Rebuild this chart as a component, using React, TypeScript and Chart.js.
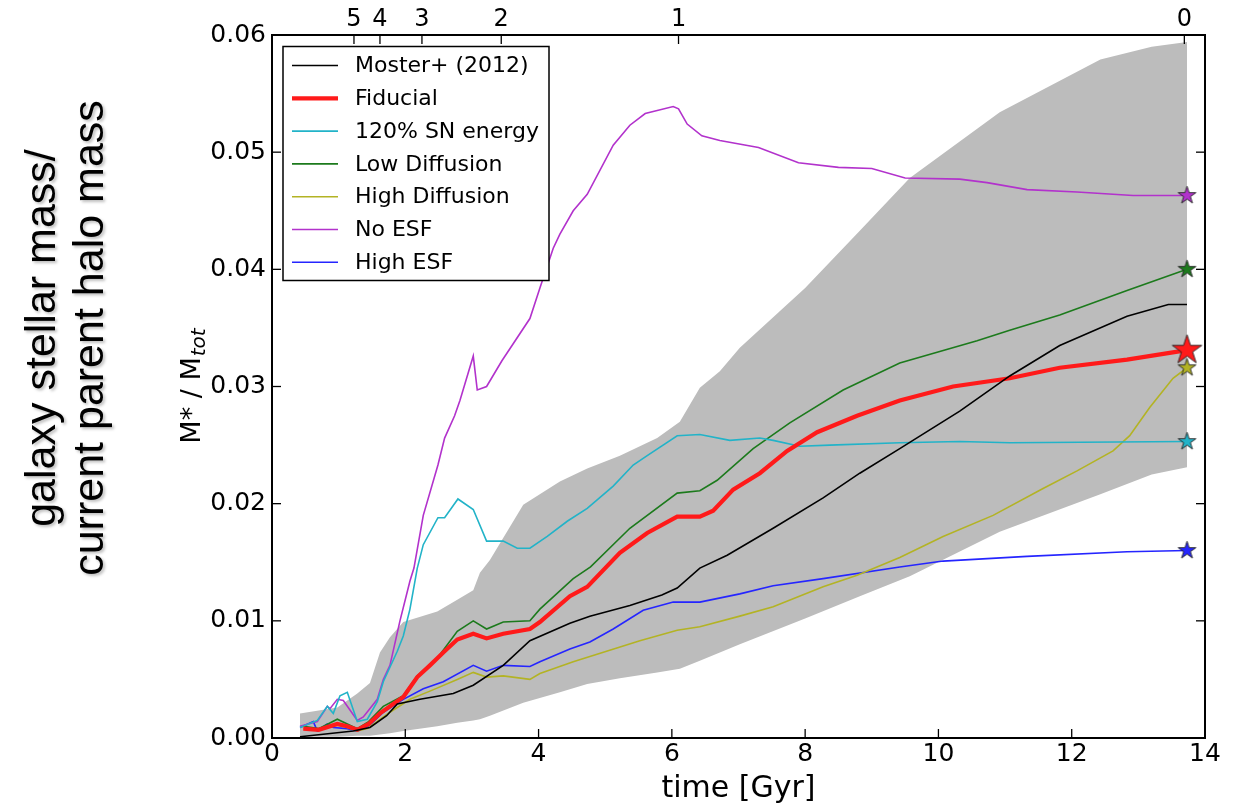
import React, { useEffect, useRef } from 'react';
import { Chart, registerables } from 'chart.js';

Chart.register(...registerables);

// ---------- data ----------
const seriesNames = ['Moster+ (2012)', 'Fiducial', '120% SN energy', 'Low Diffusion', 'High Diffusion', 'No ESF', 'High ESF'];

const redshiftLabels = ['5', '4', '3', '2', '1', '0'];
const redshiftTimes = [1.23, 1.62, 2.25, 3.44, 6.1, 13.69];

const bandT = [0.42, 0.98, 1.28, 1.47, 1.62, 1.77, 1.97, 2.48, 2.78, 3.02, 3.12, 3.27, 3.77, 4.32, 4.73, 5.22, 5.78, 6.12, 6.42, 6.72, 7.02, 8.0, 8.82, 9.57, 10.92, 12.43, 13.2, 13.73];
const bandHi = [0.0021, 0.0026, 0.0038, 0.0047, 0.0073, 0.0086, 0.0099, 0.0108, 0.0118, 0.0126, 0.0141, 0.0152, 0.0199, 0.0219, 0.0230, 0.0241, 0.0256, 0.0270, 0.0299, 0.0313, 0.0333, 0.0384, 0.0433, 0.0478, 0.0534, 0.0579, 0.0590, 0.0594];
const bandLo = [0.0001, 0.0001, 0.0002, 0.0002, 0.0003, 0.0004, 0.0006, 0.0010, 0.0013, 0.0015, 0.0016, 0.0019, 0.0030, 0.0039, 0.0046, 0.0051, 0.0056, 0.0059, 0.0066, 0.0073, 0.0080, 0.0102, 0.0121, 0.0138, 0.0176, 0.0208, 0.0225, 0.0231];

const mosterT = [0.42, 1.22, 1.47, 1.72, 1.88, 2.22, 2.72, 3.02, 3.47, 3.87, 4.47, 4.77, 5.37, 5.85, 6.08, 6.42, 6.83, 7.52, 8.27, 8.82, 9.42, 10.32, 11.07, 11.82, 12.83, 13.45, 13.73];
const mosterV = [0.0001, 0.0006, 0.0009, 0.0019, 0.0029, 0.0033, 0.0038, 0.0045, 0.0062, 0.0083, 0.0098, 0.0104, 0.0113, 0.0122, 0.0128, 0.0145, 0.0156, 0.0179, 0.0205, 0.0226, 0.0247, 0.0279, 0.0309, 0.0335, 0.0360, 0.0370, 0.0370];

const fiducialT = [0.47, 0.7, 0.98, 1.13, 1.28, 1.45, 1.62, 1.97, 2.18, 2.37, 2.57, 2.78, 3.02, 3.22, 3.47, 3.87, 4.02, 4.47, 4.73, 5.22, 5.63, 6.08, 6.42, 6.62, 6.92, 7.32, 7.73, 8.18, 8.78, 9.42, 10.22, 11.07, 11.82, 12.83, 13.73];
const fiducialV = [0.0008, 0.0007, 0.0012, 0.0010, 0.0007, 0.0012, 0.0021, 0.0035, 0.0052, 0.0062, 0.0073, 0.0084, 0.0089, 0.0085, 0.0089, 0.0093, 0.0099, 0.0121, 0.0129, 0.0158, 0.0175, 0.0189, 0.0189, 0.0194, 0.0212, 0.0226, 0.0245, 0.0261, 0.0275, 0.0288, 0.0300, 0.0307, 0.0316, 0.0323, 0.0331];

const sn120T = [0.42, 0.68, 0.83, 0.92, 1.02, 1.13, 1.28, 1.43, 1.58, 1.67, 1.88, 1.97, 2.07, 2.18, 2.27, 2.49, 2.59, 2.79, 3.02, 3.22, 3.47, 3.68, 3.87, 4.13, 4.43, 4.73, 5.12, 5.42, 5.63, 6.08, 6.42, 6.87, 7.32, 7.52, 7.92, 8.37, 9.42, 10.32, 11.07, 13.73];
const sn120V = [0.0009, 0.0015, 0.0027, 0.0021, 0.0036, 0.0039, 0.0014, 0.0016, 0.0031, 0.0048, 0.0074, 0.0087, 0.0110, 0.0145, 0.0165, 0.0188, 0.0188, 0.0204, 0.0195, 0.0168, 0.0168, 0.0162, 0.0162, 0.0172, 0.0185, 0.0196, 0.0215, 0.0233, 0.0241, 0.0258, 0.0259, 0.0254, 0.0256, 0.0254, 0.0249, 0.0250, 0.0252, 0.0253, 0.0252, 0.0253];

const lowDiffT = [0.47, 0.7, 0.98, 1.13, 1.28, 1.45, 1.67, 1.97, 2.18, 2.48, 2.78, 3.02, 3.22, 3.47, 3.87, 4.02, 4.52, 4.78, 5.37, 6.08, 6.42, 6.68, 7.22, 7.77, 8.57, 9.42, 10.58, 11.07, 11.82, 12.83, 13.73];
const lowDiffV = [0.0010, 0.0008, 0.0016, 0.0012, 0.0008, 0.0014, 0.0027, 0.0036, 0.0053, 0.0068, 0.0091, 0.0100, 0.0093, 0.0099, 0.0100, 0.0110, 0.0136, 0.0146, 0.0179, 0.0209, 0.0211, 0.0220, 0.0247, 0.0269, 0.0297, 0.0320, 0.0339, 0.0348, 0.0361, 0.0382, 0.0400];

const highDiffT = [0.47, 0.7, 0.98, 1.13, 1.28, 1.43, 1.77, 2.07, 2.37, 2.78, 3.02, 3.22, 3.47, 3.87, 4.02, 4.52, 5.02, 5.52, 6.08, 6.42, 7.02, 7.52, 8.27, 8.78, 9.42, 10.07, 10.82, 11.57, 12.08, 12.62, 12.87, 13.17, 13.52, 13.73];
const highDiffV = [0.0008, 0.0007, 0.0011, 0.0009, 0.0006, 0.0008, 0.0022, 0.0033, 0.0040, 0.0050, 0.0056, 0.0052, 0.0053, 0.0050, 0.0055, 0.0065, 0.0074, 0.0083, 0.0092, 0.0095, 0.0104, 0.0112, 0.0129, 0.0139, 0.0154, 0.0172, 0.0190, 0.0213, 0.0228, 0.0245, 0.0258, 0.0282, 0.0307, 0.0316];

const noEsfT = [0.42, 0.68, 0.83, 0.87, 0.98, 1.07, 1.28, 1.37, 1.58, 1.67, 1.77, 1.92, 2.07, 2.13, 2.27, 2.49, 2.59, 2.74, 2.82, 3.02, 3.08, 3.22, 3.45, 3.87, 4.02, 4.22, 4.32, 4.52, 4.73, 5.12, 5.37, 5.60, 6.02, 6.10, 6.23, 6.45, 6.72, 7.30, 7.90, 8.50, 9.00, 9.50, 10.32, 10.73, 11.33, 12.08, 12.92, 13.73];
const noEsfV = [0.0010, 0.0014, 0.0027, 0.0025, 0.0033, 0.0032, 0.0015, 0.0018, 0.0033, 0.0050, 0.0062, 0.0100, 0.0134, 0.0145, 0.0190, 0.0233, 0.0256, 0.0275, 0.0288, 0.0326, 0.0297, 0.0300, 0.0322, 0.0358, 0.0384, 0.0418, 0.0430, 0.0450, 0.0464, 0.0506, 0.0523, 0.0533, 0.0539, 0.0537, 0.0524, 0.0514, 0.0510, 0.0504, 0.0491, 0.0487, 0.0486, 0.0478, 0.0477, 0.0474, 0.0468, 0.0466, 0.0463, 0.0463];

const highEsfT = [0.42, 0.62, 0.68, 0.83, 0.92, 1.13, 1.28, 1.43, 1.67, 1.97, 2.27, 2.57, 3.02, 3.22, 3.47, 3.87, 4.02, 4.47, 4.77, 5.12, 5.57, 6.02, 6.42, 7.02, 7.52, 8.27, 9.42, 10.07, 11.33, 12.83, 13.73];
const highEsfV = [0.0009, 0.0014, 0.0006, 0.0012, 0.0009, 0.0008, 0.0006, 0.0009, 0.0022, 0.0033, 0.0042, 0.0048, 0.0062, 0.0057, 0.0062, 0.0061, 0.0065, 0.0076, 0.0082, 0.0093, 0.0109, 0.0116, 0.0116, 0.0123, 0.0130, 0.0136, 0.0146, 0.0151, 0.0155, 0.0159, 0.0160];

// ---------- styles ----------
const seriesColors = ['#000000', '#ff1a1a', '#22b3c8', '#1c7a1c', '#b3b324', '#b232cc', '#2525ff'];
const seriesWidths = [1.6, 4.2, 1.6, 1.6, 1.6, 1.6, 1.6];
const bandColor = '#bcbcbc';
const FONT = '"DejaVu Sans", sans-serif';

function toPts(t: number[], v: number[]) {
  return t.map((x, i) => ({ x, y: v[i] }));
}

function makeStar(fill: string, R: number): HTMLCanvasElement {
  const pad = 2;
  const size = Math.ceil(2 * R + 2 * pad);
  const c = document.createElement('canvas');
  c.width = size;
  c.height = size;
  const g = c.getContext('2d')!;
  const cx = size / 2;
  const cy = size / 2;
  const r = R * 0.382;
  g.beginPath();
  for (let i = 0; i < 10; i++) {
    const ang = -Math.PI / 2 + (i * Math.PI) / 5;
    const rad = i % 2 === 0 ? R : r;
    const px = cx + rad * Math.cos(ang);
    const py = cy + rad * Math.sin(ang);
    if (i === 0) g.moveTo(px, py);
    else g.lineTo(px, py);
  }
  g.closePath();
  g.fillStyle = fill;
  g.fill();
  g.lineWidth = 0.9;
  g.strokeStyle = '#222';
  g.stroke();
  return c;
}

const decorPlugin = {
  id: 'decor',
  afterDraw(chart: any) {
    const { ctx, chartArea: a, scales } = chart;
    ctx.save();
    const seg = (x1: number, y1: number, x2: number, y2: number) => {
      ctx.beginPath();
      ctx.moveTo(x1, y1);
      ctx.lineTo(x2, y2);
      ctx.stroke();
    };
    // legend
    const lx = a.left + 11;
    const ly = a.top + 11.5;
    ctx.fillStyle = '#fff';
    ctx.fillRect(lx, ly, 266, 234);
    ctx.strokeStyle = '#000';
    ctx.lineWidth = 1.5;
    ctx.strokeRect(lx, ly, 266, 234);
    ctx.font = `22px ${FONT}`;
    ctx.textBaseline = 'middle';
    ctx.textAlign = 'left';
    seriesNames.forEach((name, i) => {
      const ry = a.top + 30.5 + i * 32.8;
      ctx.strokeStyle = seriesColors[i];
      ctx.lineWidth = seriesWidths[i];
      seg(a.left + 20, ry, a.left + 66, ry);
      ctx.fillStyle = '#000';
      ctx.fillText(name, a.left + 83, ry + 1);
    });
    // inner ticks
    ctx.strokeStyle = '#000';
    ctx.lineWidth = 1.3;
    const tl = 9;
    scales.x.ticks.forEach((t: any) => {
      const px = scales.x.getPixelForValue(t.value);
      seg(px, a.bottom, px, a.bottom - tl);
    });
    scales.x2.ticks.forEach((t: any) => {
      const px = scales.x2.getPixelForValue(t.value);
      seg(px, a.top, px, a.top + tl);
    });
    scales.y.ticks.forEach((t: any) => {
      const py = scales.y.getPixelForValue(t.value);
      seg(a.left, py, a.left + tl, py);
      seg(a.right, py, a.right - tl, py);
    });
    // frame
    ctx.lineWidth = 2;
    ctx.strokeRect(a.left, a.top, a.right - a.left, a.bottom - a.top);
    // x title
    ctx.fillStyle = '#000';
    ctx.font = `30px ${FONT}`;
    ctx.textAlign = 'center';
    ctx.textBaseline = 'alphabetic';
    ctx.fillText('time [Gyr]', (a.left + a.right) / 2, 797);
    // y title
    ctx.translate(200, (a.top + a.bottom) / 2);
    ctx.rotate(-Math.PI / 2);
    const mainFont = `27px ${FONT}`;
    const subFont = `italic 20px ${FONT}`;
    ctx.font = mainFont;
    const w1 = ctx.measureText('M* / M').width;
    ctx.font = subFont;
    const w2 = ctx.measureText('tot').width;
    const start = -(w1 + w2) / 2;
    ctx.textAlign = 'left';
    ctx.font = mainFont;
    ctx.fillText('M* / M', start, 0);
    ctx.font = subFont;
    ctx.fillText('tot', start + w1 + 1, 5);
    ctx.restore();
  },
};

export default function App() {
  const ref = useRef<HTMLCanvasElement | null>(null);

  useEffect(() => {
    if (!ref.current) return;
    const lineSeries = [
      [mosterT, mosterV],
      [fiducialT, fiducialV],
      [sn120T, sn120V],
      [lowDiffT, lowDiffV],
      [highDiffT, highDiffV],
      [noEsfT, noEsfV],
      [highEsfT, highEsfV],
    ];
    const datasets: any[] = [
      {
        label: 'band upper',
        data: toPts(bandT, bandHi),
        borderWidth: 0,
        borderColor: bandColor,
        backgroundColor: bandColor,
        fill: '+1',
        pointRadius: 0,
        order: 100,
      },
      {
        label: 'band lower',
        data: toPts(bandT, bandLo),
        borderWidth: 0,
        borderColor: bandColor,
        fill: false,
        pointRadius: 0,
        order: 100,
      },
    ];
    lineSeries.forEach(([t, v], i) => {
      datasets.push({
        label: seriesNames[i],
        data: toPts(t, v),
        borderColor: seriesColors[i],
        borderWidth: seriesWidths[i],
        fill: false,
        pointRadius: 0,
        tension: 0,
        order: 10,
      });
    });
    // end-point stars for the simulations (all but Moster)
    lineSeries.forEach(([t, v], i) => {
      if (i === 0) return;
      const R = i === 1 ? 15.5 : 9.3;
      datasets.push({
        label: seriesNames[i] + ' z=0',
        data: [{ x: t[t.length - 1], y: v[v.length - 1] }],
        showLine: false,
        pointStyle: makeStar(seriesColors[i], R),
        pointRadius: R,
        order: i === 1 ? 0 : 1,
      });
    });

    const chart = new Chart(ref.current, {
      type: 'line',
      data: { datasets },
      options: {
        animation: false,
        responsive: false,
        devicePixelRatio: 1,
        layout: { padding: { left: 180, right: 31, top: 0, bottom: 0 } },
        font: { family: FONT },
        plugins: {
          legend: { display: false },
          tooltip: { enabled: false },
          filler: { drawTime: 'beforeDatasetsDraw' },
        } as any,
        scales: {
          x: {
            type: 'linear',
            position: 'bottom',
            min: 0,
            max: 14,
            grid: { display: false },
            border: { display: false },
            ticks: {
              stepSize: 2,
              autoSkip: false,
              maxRotation: 0,
              padding: -7,
              color: '#000',
              font: { family: FONT, size: 25 },
            },
            afterFit(s: any) {
              s.height = 66;
            },
          },
          x2: {
            type: 'linear',
            position: 'top',
            min: 0,
            max: 14,
            grid: { display: false },
            border: { display: false },
            afterBuildTicks(s: any) {
              s.ticks = redshiftTimes.map((v) => ({ value: v }));
            },
            ticks: {
              autoSkip: false,
              maxRotation: 0,
              padding: -7,
              color: '#000',
              font: { family: FONT, size: 24 },
              callback: (_v: any, i: number) => redshiftLabels[i],
            },
            afterFit(s: any) {
              s.height = 35;
            },
          },
          y: {
            type: 'linear',
            min: 0,
            max: 0.06,
            grid: { display: false },
            border: { display: false },
            ticks: {
              stepSize: 0.01,
              padding: -2,
              color: '#000',
              font: { family: FONT, size: 25 },
              callback: (v: any) => Number(v).toFixed(2),
            },
            afterFit(s: any) {
              s.width = 92;
            },
          },
        } as any,
      },
      plugins: [decorPlugin],
    });
    return () => chart.destroy();
  }, []);

  return (
    <div style={{ position: 'absolute', left: 0, top: 0, width: 1236, height: 804, background: '#fff', overflow: 'hidden' }}>
      <canvas ref={ref} width={1236} height={804} style={{ position: 'absolute', left: 0, top: 0, width: 1236, height: 804 }} />
      <div
        style={{
          position: 'absolute',
          left: 64 - 300,
          top: 338 - 48,
          width: 600,
          height: 96,
          transform: 'rotate(-90deg)',
          fontFamily: '"Liberation Sans", Arial, sans-serif',
          fontSize: 43,
          lineHeight: '48px',
          textAlign: 'center',
          color: '#000',
          whiteSpace: 'nowrap',
          textShadow: '-2px 2px 3px rgba(0,0,0,0.25)',
        }}
      >
        galaxy stellar mass/
        <br />
        current parent halo mass
      </div>
    </div>
  );
}
